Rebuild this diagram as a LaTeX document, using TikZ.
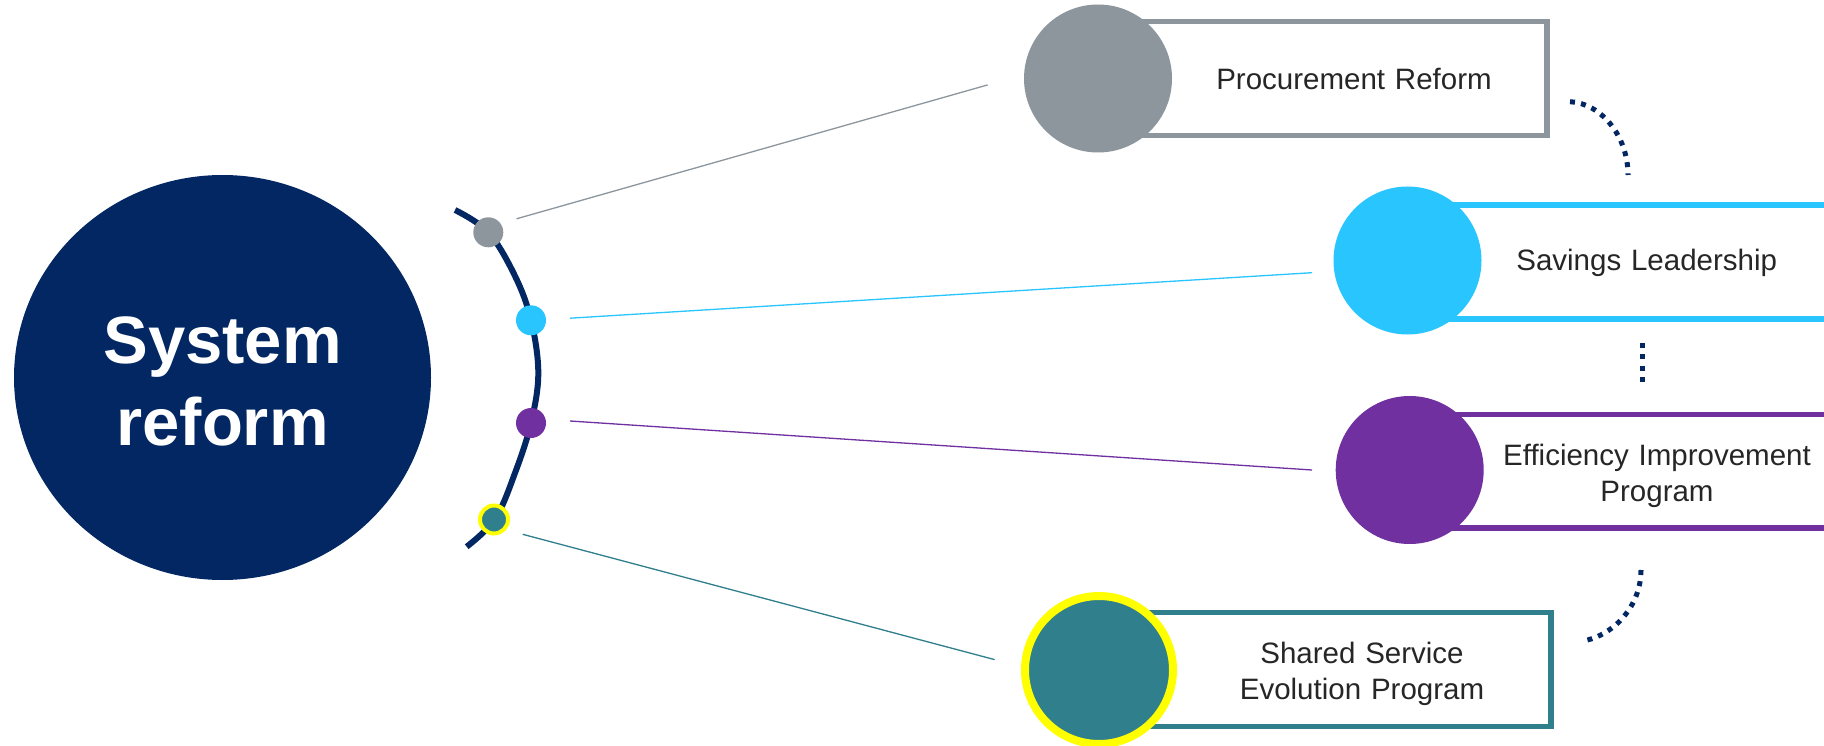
\documentclass[tikz,border=0pt]{standalone}
\usepackage{fontspec}
\setmainfont{Liberation Sans}
\usetikzlibrary{shapes.geometric}
\definecolor{navy}{RGB}{2,39,99}
\definecolor{pgray}{RGB}{141,150,157}
\definecolor{pcyan}{RGB}{41,197,255}
\definecolor{ppurple}{RGB}{112,48,160}
\definecolor{pteal}{RGB}{47,127,140}
\definecolor{ptext}{RGB}{38,38,38}
\definecolor{pyellow}{RGB}{255,255,0}
\begin{document}
\begin{tikzpicture}[x=1pt,y=-1pt,
  hub/.style={ellipse, fill=navy, minimum width=417pt, minimum height=405pt, inner sep=0pt},
  hubtext/.style={text=white, font=\bfseries\fontsize{67}{82}\selectfont, text width=400pt, align=center, anchor=base, inner sep=0pt},
  arcdot/.style={circle, minimum size=30pt, inner sep=0pt},
  bigdot/.style={circle, minimum size=148pt, inner sep=0pt},
  card/.style={rectangle, draw, line width=5.5pt, fill=white, inner sep=0pt},
  cardtext/.style={text=ptext, font=\fontsize{29.5}{36}\selectfont, text width=420pt, align=center, anchor=base, inner sep=0pt},
  conn/.style={line width=1.3pt},
  dotline/.style={navy, line width=5pt, dash pattern=on 5pt off 6.2pt}
]
\useasboundingbox (0,0) rectangle (1824,746);
\fill[white] (0,0) rectangle (1824,746);

% hub
\node[hub] (sys) at (222.5,377.5) {};
\node[hubtext] (systxt) at (222.5,363) {System\\reform};

% connector end points
\coordinate (l1s) at (516.5,218.8); \coordinate (l1e) at (987.7,84.9);
\coordinate (l2s) at (570,318.2);   \coordinate (l2e) at (1312,272.7);
\coordinate (l3s) at (570,421);     \coordinate (l3e) at (1312,470);
\coordinate (l4s) at (522.7,534.3); \coordinate (l4e) at (994.6,659.6);
\draw[conn, pgray] (l1s) -- (l1e);
\draw[conn, pcyan] (l2s) -- (l2e);
\draw[conn, ppurple] (l3s) -- (l3e);
\draw[conn, pteal] (l4s) -- (l4e);

% arc
\draw[navy, line width=6pt] plot[smooth, tension=0.6] coordinates
  {(455,210) (488.3,232.3) (515,276) (531,320) (538.3,373) (531,423) (515,473) (495,519) (466.7,546.7)};

% dots on arc
\node[arcdot, fill=pgray] (d1) at (488.3,232.3) {};
\node[arcdot, fill=pcyan] (d2) at (531,320.3) {};
\node[arcdot, fill=ppurple] (d3) at (531,423) {};
\node[arcdot, fill=pteal, draw=pyellow, line width=4pt, minimum size=28pt] (d4) at (494,519.5) {};

% cards
\node[card, draw=pgray, minimum width=449pt, minimum height=113.6pt] (b1) at (1322.5,78.5) {};
\node[card, draw=pcyan, minimum width=463pt, minimum height=113.8pt] (b2) at (1638.5,261.9) {};
\node[card, draw=ppurple, minimum width=460pt, minimum height=113.5pt] (b3) at (1640,471.25) {};
\node[card, draw=pteal, minimum width=452pt, minimum height=114pt] (b4) at (1325,669.7) {};

% big circles
\node[bigdot, fill=pgray] (c1) at (1098,78.5) {};
\node[bigdot, fill=pcyan] (c2) at (1407.5,260.5) {};
\node[bigdot, fill=ppurple] (c3) at (1409.7,470) {};
\node[bigdot, fill=pteal, draw=pyellow, line width=8pt] (c4) at (1099,670) {};

% card texts
\node[cardtext] (t1) at (1354,90) {Procurement Reform};
\node[cardtext] (t2) at (1646.7,270.7) {Savings Leadership};
\node[cardtext] (t3) at (1657,465) {Efficiency Improvement\\Program};
\node[cardtext] (t4) at (1362,663.3) {Shared Service\\Evolution Program};

% dotted links
\coordinate (q1s) at (1570,101.7); \coordinate (q1e) at (1628,175);
\draw[dotline] (q1s) .. controls (1600,103) and (1628,135) .. (q1e);
\coordinate (q2s) at (1642.7,343.2); \coordinate (q2e) at (1642.7,381.5);
\draw[dotline] (q2s) -- (q2e);
\coordinate (q3s) at (1641,570); \coordinate (q3e) at (1583,641);
\draw[dotline] (q3s) .. controls (1641,605) and (1615,635) .. (q3e);
\end{tikzpicture}
\end{document}
